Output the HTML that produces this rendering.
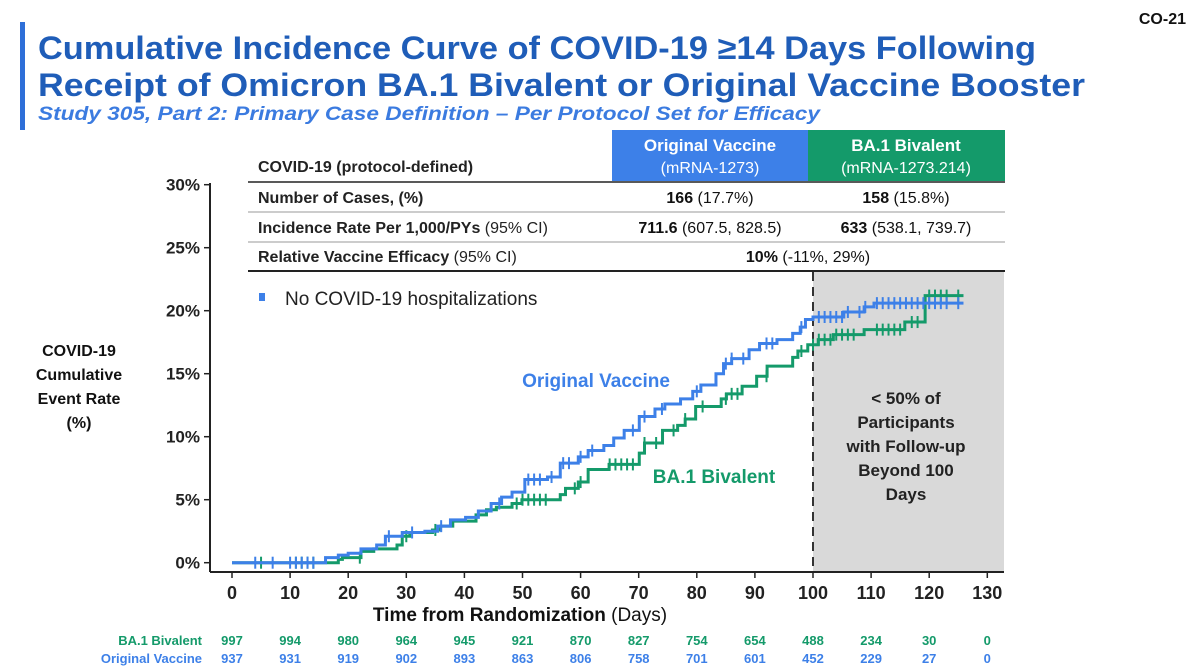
<!DOCTYPE html>
<html><head><meta charset="utf-8"><style>
body{margin:0;background:#fff;font-family:"Liberation Sans",Arial,sans-serif;}
svg{display:block}
text{font-family:"Liberation Sans",Arial,sans-serif}
</style></head><body>
<svg id="chart" width="1200" height="671" viewBox="0 0 1200 671">
<rect x="20" y="22" width="5" height="108" fill="#2e6fd8"/>
<text x="1186" y="24" text-anchor="end" font-size="16" font-weight="bold" fill="#111">CO-21</text>
<text x="38" y="59" font-size="32" font-weight="bold" fill="#1f5db8" textLength="998" lengthAdjust="spacingAndGlyphs">Cumulative Incidence Curve of COVID-19 ≥14 Days Following</text>
<text x="38" y="96" font-size="32" font-weight="bold" fill="#1f5db8" textLength="1047" lengthAdjust="spacingAndGlyphs">Receipt of Omicron BA.1 Bivalent or Original Vaccine Booster</text>
<text x="38" y="120" font-size="19" font-weight="bold" font-style="italic" fill="#3b7be0" textLength="782" lengthAdjust="spacingAndGlyphs">Study 305, Part 2: Primary Case Definition – Per Protocol Set for Efficacy</text>

<g>
<rect x="612" y="130" width="196" height="51" fill="#3d80e8"/>
<rect x="808" y="130" width="197" height="51" fill="#149a6a"/>
<text x="710" y="151" text-anchor="middle" font-size="17" font-weight="bold" fill="#fff">Original Vaccine</text>
<text x="710" y="173" text-anchor="middle" font-size="16" fill="#fff">(mRNA-1273)</text>
<text x="906" y="151" text-anchor="middle" font-size="17" font-weight="bold" fill="#fff">BA.1 Bivalent</text>
<text x="906" y="173" text-anchor="middle" font-size="16" fill="#fff">(mRNA-1273.214)</text>
<text x="258" y="172" font-size="16" font-weight="bold" fill="#222">COVID-19 (protocol-defined)</text>
<line x1="248" y1="182" x2="1005" y2="182" stroke="#222" stroke-width="1.5"/>
<line x1="248" y1="212" x2="1005" y2="212" stroke="#999" stroke-width="1"/>
<line x1="248" y1="242" x2="1005" y2="242" stroke="#999" stroke-width="1"/>
<line x1="248" y1="271" x2="1005" y2="271" stroke="#222" stroke-width="2"/>
<text x="258" y="203" font-size="16" font-weight="bold" fill="#222">Number of Cases, (%)</text>
<text x="710" y="203" text-anchor="middle" font-size="16" fill="#111"><tspan font-weight="bold">166</tspan> (17.7%)</text>
<text x="906" y="203" text-anchor="middle" font-size="16" fill="#111"><tspan font-weight="bold">158</tspan> (15.8%)</text>
<text x="258" y="233" font-size="16" fill="#222"><tspan font-weight="bold">Incidence Rate Per 1,000/PYs</tspan> (95% CI)</text>
<text x="710" y="233" text-anchor="middle" font-size="16" fill="#111"><tspan font-weight="bold">711.6</tspan> (607.5, 828.5)</text>
<text x="906" y="233" text-anchor="middle" font-size="16" fill="#111"><tspan font-weight="bold">633</tspan> (538.1, 739.7)</text>
<text x="258" y="262" font-size="16" fill="#222"><tspan font-weight="bold">Relative Vaccine Efficacy</tspan> (95% CI)</text>
<text x="808" y="262" text-anchor="middle" font-size="16" fill="#111"><tspan font-weight="bold">10%</tspan> (-11%, 29%)</text>
</g>

<rect x="813" y="272" width="191" height="299" fill="#d9d9d9"/>
<line x1="813" y1="272" x2="813" y2="571" stroke="#333" stroke-width="2" stroke-dasharray="9,6"/>
<text text-anchor="middle" font-size="17" font-weight="bold" fill="#222">
<tspan x="906" y="404">&lt; 50% of</tspan><tspan x="906" y="428">Participants</tspan><tspan x="906" y="452">with Follow-up</tspan><tspan x="906" y="476">Beyond 100</tspan><tspan x="906" y="500">Days</tspan></text>

<rect x="259" y="293" width="6" height="8" fill="#3d80e8"/>
<text x="285" y="305" font-size="19" fill="#222">No COVID-19 hospitalizations</text>

<text text-anchor="middle" font-size="16" font-weight="bold" fill="#111"><tspan x="79" y="356">COVID-19</tspan><tspan x="79" y="380">Cumulative</tspan><tspan x="79" y="404">Event Rate</tspan><tspan x="79" y="428">(%)</tspan></text>
<text x="520" y="621" text-anchor="middle" font-size="19" fill="#111"><tspan font-weight="bold">Time from Randomization</tspan> (Days)</text>

<text x="596" y="387" text-anchor="middle" font-size="19" font-weight="bold" fill="#3d80e8">Original Vaccine</text>
<text x="714" y="483" text-anchor="middle" font-size="19" font-weight="bold" fill="#149a6a">BA.1 Bivalent</text>

<g id="axes"></g>
<g id="series"></g>
<g id="risk"></g>
</svg>
<script>
const xTicks=[0,10,20,30,40,50,60,70,80,90,100,110,120,130];
const yTicks=[0,5,10,15,20,25,30];
const origDays=[0,16.1,18.3,20,22.2,24.9,26.4,29.3,33.2,35.4,37.6,40.2,42.4,44.6,46.4,48.2,50.4,54.3,56.5,59.6,61.3,64,65.7,67.5,70.1,72.8,74.5,77.2,79.3,80.7,83.3,84.6,86,89,90.8,93.8,96.5,97.8,98.7,100,105.3,108.8,110.5,125.9];
const origPct=[0,0.4,0.6,0.75,1.1,1.4,2.1,2.4,2.5,2.9,3.4,3.6,4.1,4.7,5.2,5.6,6.6,6.8,7.9,8.4,8.9,9.3,9.9,10.5,11.6,12.2,12.6,13,13.6,14.1,15,15.8,16.2,16.9,17.4,17.7,18.2,18.7,19.3,19.5,19.9,20.3,20.6,20.6];
const bivDays=[0,18.3,19,22.2,24.4,28.4,29.3,30.6,34.5,35.9,38,42,43.8,45.5,48.2,49.9,56.5,57.4,59.6,61.3,64.9,70.1,71,74.1,76.7,78,79.8,84.2,85.1,87.8,90.3,92.1,96.5,97.4,99.1,100.9,103.5,108.8,115.8,119.3,125.9];
const bivPct=[0,0.26,0.4,0.9,1.1,1.4,2.1,2.4,2.6,2.9,3.3,3.8,4.2,4.4,4.7,5,5.4,5.9,6.4,7.4,7.8,8.7,9.5,10.5,10.9,11.4,12.4,13,13.4,14,14.8,15.6,16.3,16.8,17.3,17.7,18.1,18.5,19.1,21.2,21.2];
const origCens=[4,7,10,11,12,13,14,27,31,36,46,51,52,53,55,57,58,60,62,69,71,74,80,85,86,88,92,93,98,101,102,103,104,105,106,108,109,111,112,113,114,115,116,117,118,119,120,121,122,123,125];
const bivCens=[5,11,12,13,14,22,30,35,49,50,51,52,53,54,59,60,65,66,67,68,69,71,73,76,78,81,85,86,87,92,98,100,101,102,103,104,105,106,107,111,112,113,114,115,117,118,120,121,122,123,125];
const riskBiv=[997,994,980,964,945,921,870,827,754,654,488,234,30,0];
const riskOrig=[937,931,919,902,893,863,806,758,701,601,452,229,27,0];
const X=d=>232+d*5.81, Y=p=>562.7-p*12.6;
const NS="http://www.w3.org/2000/svg";
function mk(tag,attrs,parent,txt){const e=document.createElementNS(NS,tag);for(const k in attrs)e.setAttribute(k,attrs[k]);if(txt!==undefined)e.textContent=txt;parent.appendChild(e);return e;}
const ax=document.getElementById('axes');
let yl=mk('line',{x1:210,y1:183,x2:210,y2:572,stroke:'#222','stroke-width':2},ax);


let xl=mk('line',{x1:210,y1:572,x2:1004,y2:572,stroke:'#222','stroke-width':2},ax);


yTicks.forEach(v=>{mk('line',{x1:204,y1:Y(v),x2:210,y2:Y(v),stroke:'#222','stroke-width':1.5},ax);
const t=mk('text',{x:200,y:Y(v)+6,'text-anchor':'end','font-size':17,'font-weight':'bold',fill:'#222'},ax,v+'%');

});
xTicks.forEach(v=>{mk('line',{x1:X(v),y1:572,x2:X(v),y2:578,stroke:'#222','stroke-width':1.5},ax);
const t=mk('text',{x:X(v),y:599,'text-anchor':'middle','font-size':18,'font-weight':'bold',fill:'#222'},ax,v);

});
function stepAt(days,pct,d){let v=0;for(let i=0;i<days.length;i++){if(days[i]<=d)v=pct[i];}return v;}
const sg=document.getElementById('series');
function drawSeries(days,pct,cens,color,name){
  let d='M'+X(days[0])+','+Y(pct[0]);
  for(let i=1;i<days.length;i++){d+=' H'+X(days[i])+' V'+Y(pct[i]);}
  const p=mk('path',{d:d,fill:'none',stroke:color,'stroke-width':3},sg);
  
  
  cens.forEach(c=>{const y=Y(stepAt(days,pct,c));
    const m=mk('line',{x1:X(c),y1:y-6,x2:X(c),y2:y+6,stroke:color,'stroke-width':2},sg);
    
    });
}
drawSeries(bivDays,bivPct,bivCens,'#149a6a','bivalent');
drawSeries(origDays,origPct,origCens,'#3d80e8','original');
const rg=document.getElementById('risk');
let l1=mk('text',{x:202,y:645,'text-anchor':'end','font-size':13,'font-weight':'bold',fill:'#149a6a'},rg,'BA.1 Bivalent');


let l2=mk('text',{x:202,y:663,'text-anchor':'end','font-size':13,'font-weight':'bold',fill:'#3d80e8'},rg,'Original Vaccine');


xTicks.forEach((v,i)=>{
  const a=mk('text',{x:X(v),y:645,'text-anchor':'middle','font-size':13,'font-weight':'bold',fill:'#149a6a'},rg,riskBiv[i]);
  
  
  const b=mk('text',{x:X(v),y:663,'text-anchor':'middle','font-size':13,'font-weight':'bold',fill:'#3d80e8'},rg,riskOrig[i]);
  
  
});
</script>
</body></html>
